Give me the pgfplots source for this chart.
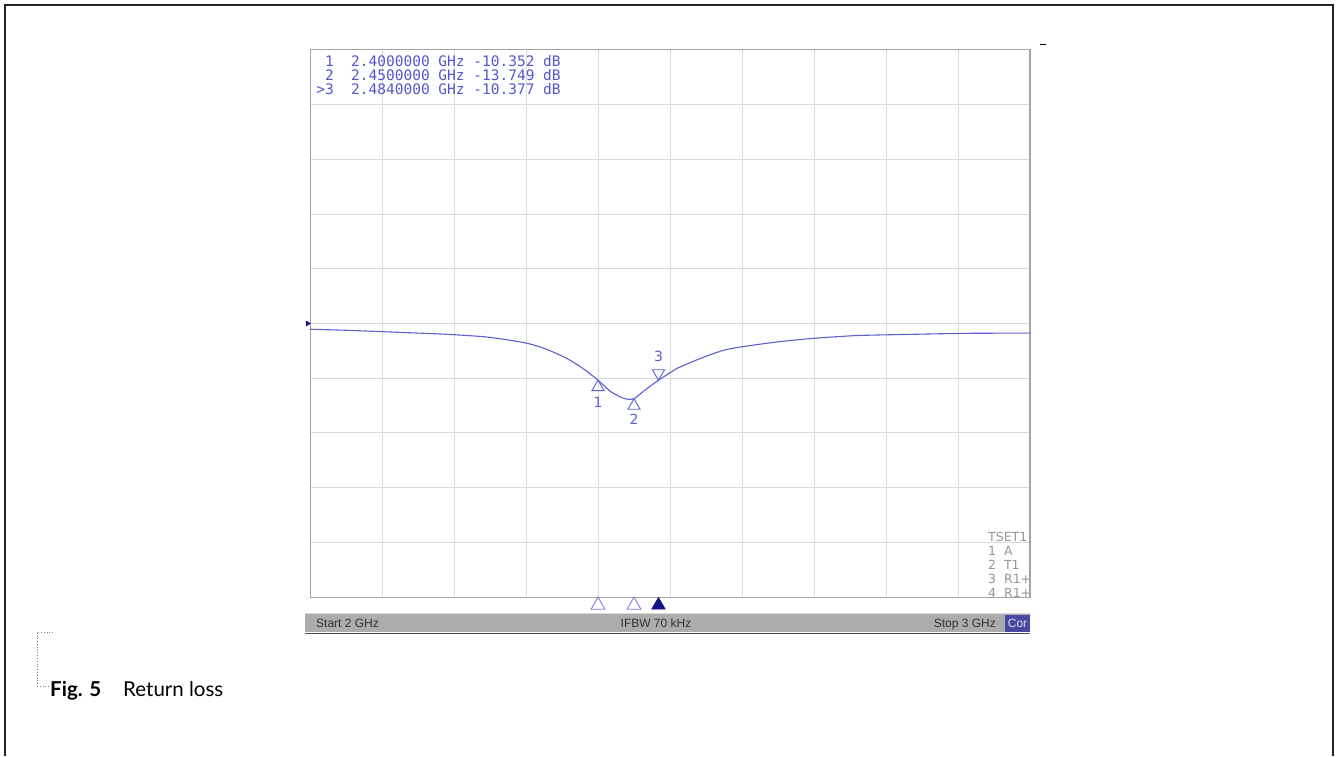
\documentclass[border=0pt]{standalone}
\usepackage{pgfplots}
\pgfplotsset{compat=1.18}
\usepackage{fontspec}
\setmainfont{Lato}
\newfontfamily\monof{DejaVu Sans Mono}
\newfontfamily\dvs{DejaVu Sans}
\newfontfamily\lsans{Liberation Sans}
\definecolor{mblue}{RGB}{95,95,205}
\definecolor{txtblue}{RGB}{85,85,205}
\definecolor{gridc}{RGB}{218,218,218}
\definecolor{framec}{RGB}{165,165,165}
\definecolor{barc}{RGB}{172,172,172}
\definecolor{navy}{RGB}{20,20,130}
\definecolor{corc}{RGB}{72,72,165}
\definecolor{tsetc}{RGB}{150,150,150}

\begin{document}
\begin{tikzpicture}[x=1pt,y=1pt]
\path[use as bounding box] (0,0) rectangle (1338,756);
\draw[line width=1.5pt, color=black!85] (5,0)--(5,751)--(1333,751)--(1333,0);

% status bar
\fill[barc] (305,124) rectangle (1030,142);
\draw[gray!30, line width=1pt] (305,142.5)--(1030,142.5);
\draw[black!70, line width=1.5pt] (305,122.5)--(1030,122.5);
\fill[corc] (1005,124.5) rectangle (1030,141.5);
\node[anchor=base west, font=\lsans\fontsize{12}{12}\selectfont, text=black!80, inner sep=0] at (316,128.5) {Start 2 GHz};
\node[anchor=base, font=\lsans\fontsize{12}{12}\selectfont, text=black!80, inner sep=0] at (656,128.5) {IFBW 70 kHz};
\node[anchor=base east, font=\lsans\fontsize{12}{12}\selectfont, text=black!80, inner sep=0] at (996,128.5) {Stop 3 GHz};
\node[anchor=base, font=\lsans\fontsize{12}{12}\selectfont, text=gray!25, inner sep=0] at (1017.5,128.5) {Cor};

\begin{axis}[at={(310pt,159pt)}, anchor=south west, scale only axis,
  width=720pt, height=547pt,
  xmin=2, xmax=3, ymin=-50, ymax=50,
  xtick={2,2.1,2.2,2.3,2.4,2.5,2.6,2.7,2.8,2.9,3},
  ytick={-50,-40,-30,-20,-10,0,10,20,30,40,50},
  xticklabels={}, yticklabels={}, major tick length=0pt,
  grid=major, major grid style={draw=gridc, line width=1pt},
  axis line style={draw=framec, line width=1pt},
  clip=false]
\draw[framec, line width=2.5pt] (rel axis cs:1,0)--(rel axis cs:1,1);
\addplot[color=mblue, line width=1.1pt, smooth, tension=0.35] coordinates {
(2.000,-1.05) (2.053,-1.25) (2.111,-1.55) (2.150,-1.75) (2.194,-2.00)
(2.240,-2.40) (2.270,-2.90) (2.301,-3.60) (2.320,-4.30) (2.333,-4.95)
(2.357,-6.40) (2.379,-8.20) (2.400,-10.352) (2.417,-12.40) (2.433,-13.55)
(2.442,-13.85) (2.450,-13.749) (2.465,-12.20) (2.484,-10.377) (2.510,-8.20)
(2.542,-6.40) (2.574,-4.90) (2.600,-4.25) (2.653,-3.30) (2.700,-2.70)
(2.760,-2.20) (2.840,-1.97) (2.910,-1.80) (3.000,-1.75)};
% on-trace markers
\addplot[only marks, mark=triangle, mark size=7pt, color=mblue, mark options={yshift=-7pt, line width=0.9pt}]
  coordinates {(2.400,-10.352) (2.450,-13.749)};
\addplot[only marks, mark=triangle, mark size=7pt, color=mblue, mark options={yshift=7pt, rotate=180, line width=0.9pt}]
  coordinates {(2.484,-10.377)};
\node[text=mblue, font=\dvs\fontsize{14}{14}\selectfont, inner sep=0] at (axis cs:2.400,-10.352) [yshift=-22pt] {1};
\node[text=mblue, font=\dvs\fontsize{14}{14}\selectfont, inner sep=0] at (axis cs:2.450,-13.749) [yshift=-21pt] {2};
\node[text=mblue, font=\dvs\fontsize{14}{14}\selectfont, inner sep=0] at (axis cs:2.484,-10.377) [yshift=24pt] {3};
% stimulus markers under the grid
\addplot[only marks, mark=triangle, mark size=8pt, color=mblue!80, mark options={line width=0.9pt}]
  coordinates {(2.400,-51.5) (2.450,-51.5)};
\addplot[only marks, mark=triangle*, mark size=8pt, color=navy]
  coordinates {(2.484,-51.5)};
% reference level arrow
\addplot[only marks, mark=triangle*, mark size=3pt, color=navy, mark options={xshift=-2.5pt, rotate=-90}]
  coordinates {(2.000,0)};
\end{axis}

% marker readout
\begin{scope}[every node/.style={inner sep=0, text=txtblue, font=\monof\fontsize{14.5}{14.5}\selectfont}]
\node[anchor=base east] at (334,689) {1};
\node[anchor=base east] at (334,675) {2};
\node[anchor=base east] at (334,661) {>3};
\node[anchor=base west] at (351,689) {2.4000000 GHz -10.352 dB};
\node[anchor=base west] at (351,675) {2.4500000 GHz -13.749 dB};
\node[anchor=base west] at (351,661) {2.4840000 GHz -10.377 dB};
\end{scope}

% TSET block
\begin{scope}[every node/.style={inner sep=0, anchor=base west, text=tsetc, font=\dvs\fontsize{12.5}{12.5}\selectfont}]
\node at (988,215) {TSET1};
\node at (988,201) {1\ \ A};
\node at (988,187) {2\ \ T1};
\node at (988,173) {3\ \ R1+};
\node at (988,159) {4\ \ R1+};
\end{scope}

\draw[black, line width=1pt] (1040,711)--(1046,711);

% caption
\draw[gray, dotted, line width=0.8pt] (53,124)--(37,124)--(37,70)--(50,70);
\node[anchor=base west, inner sep=0, font=\fontsize{20.5}{20.5}\selectfont] at (50,60) {\textbf{Fig. 5}\hspace{22pt}Return loss};
\end{tikzpicture}
\end{document}
